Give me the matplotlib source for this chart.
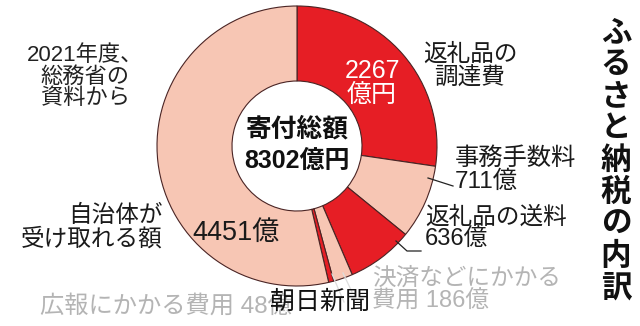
import matplotlib.pyplot as plt

# Arial-like digits, CJK glyphs fall through to Noto
plt.rcParams['font.family'] = ['Liberation Sans', 'Noto Sans CJK JP', 'DejaVu Sans']
JP = ['Noto Sans CJK JP', 'DejaVu Sans']

# Breakdown of furusato nozei donations (100 million yen), clockwise from top
labels = ['返礼品の調達費', '事務手数料', '返礼品の送料', '決済などにかかる費用', '広報にかかる費用', '自治体が受け取れる額']
values = [2267, 711, 636, 186, 48, 4451]
total = 8302

RED = '#e61e25'
PINK = '#f7c6b4'
colors = [RED, PINK, RED, PINK, RED, PINK]
GREY = '#b4b4b4'

W, H = 640, 326


def Y(y):
    # image-style y (from top) -> axes y
    return H - y


fig = plt.figure(figsize=(6.4, 3.26), dpi=100)
ax = fig.add_axes([0, 0, 1, 1])

cx, cy, R = 297, Y(146), 140
ax.pie(values, colors=colors, startangle=90, counterclock=False,
       center=(cx, cy), radius=R, frame=True,
       wedgeprops=dict(width=75, edgecolor='#4a2424', linewidth=0.8))
ax.set_xlim(0, W)
ax.set_ylim(0, H)
ax.set_aspect('equal')
ax.axis('off')

# center text
ax.text(cx, Y(129), '寄付総額', ha='center', va='center', fontsize=18.5, fontweight='bold',
        color='#111111', family=JP)
ax.text(cx, Y(161), f'{total}億円', ha='center', va='center', fontsize=18, fontweight='bold',
        color='#111111')

# slice labels
ax.text(372, Y(83), f'{values[0]}\n億円', ha='center', va='center', fontsize=18,
        color='white', linespacing=1.0)
ax.text(470, Y(66), '返礼品の\n調達費', ha='center', va='center', fontsize=17,
        color='#1a1a1a', linespacing=1.05, family=JP)
ax.text(236, Y(233), f'{values[5]}億', ha='center', va='center', fontsize=19.5, color='#1a1a1a')
ax.text(163, Y(227), '自治体が\n受け取れる額', ha='right', va='center', fontsize=17,
        color='#1a1a1a', linespacing=1.05, family=JP)
ax.text(455, Y(170), f'事務手数料\n{values[1]}億', ha='left', va='center', fontsize=17.5,
        color='#1a1a1a', linespacing=1.0)
ax.text(425, Y(229), f'返礼品の送料\n{values[2]}億', ha='left', va='center', fontsize=17,
        color='#1a1a1a', linespacing=1.0)
ax.text(372, Y(290), f'決済などにかかる\n費用 {values[3]}億', ha='left', va='center', fontsize=17,
        color=GREY, linespacing=1.0)
ax.text(40, Y(306), f'広報にかかる費用 {values[4]}億', ha='left', va='center', fontsize=17.5, color=GREY)
ax.text(85, Y(77), '2021年度、\n総務省の\n資料から', ha='center', va='center', fontsize=16,
        color='#222222', linespacing=1.05)

# leader lines
ax.plot([428, 453], [Y(178), Y(186)], color='#222222', lw=0.9)
ax.plot([396, 407, 421], [Y(241), Y(251), Y(251)], color='#222222', lw=0.9)
ax.plot([332, 344], [Y(274), Y(302)], color='#dddddd', lw=0.9)
ax.plot([343, 352], [Y(273), Y(292)], color='#dddddd', lw=0.9)

# credit
ax.text(320, Y(302), '朝日新聞', ha='center', va='center', fontsize=18, color='#111111', family=JP)

# vertical title
ax.text(616, Y(160), '\n'.join('ふるさと納税の内訳'), ha='center', va='center', fontsize=22,
        fontweight='bold', color='#111111', linespacing=1.0, family=JP)

fig.savefig('out.png', dpi=100)
